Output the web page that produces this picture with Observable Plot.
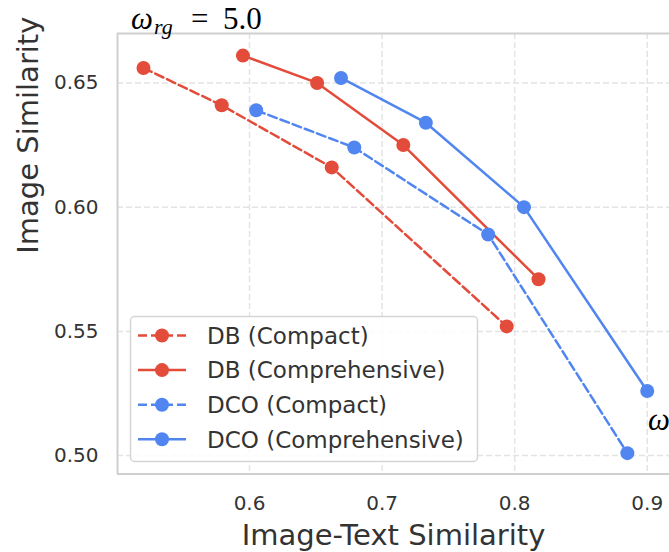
<!DOCTYPE html>
<html><head><meta charset="utf-8">
<script src="https://cdn.jsdelivr.net/npm/d3@7"></script>
<script src="https://cdn.jsdelivr.net/npm/@observablehq/plot@0.6"></script>
<style>body{margin:0;background:#fff;} #chart svg{display:block;overflow:hidden;}</style>
</head><body><div id="chart"></div>
<script>
// ---- data ----
const seriesNames = ["DB (Compact)", "DB (Comprehensive)", "DCO (Compact)", "DCO (Comprehensive)"];
const seriesColors = ["#E34B3A", "#E34B3A", "#5186F1", "#5186F1"];
const seriesDashed = [true, false, true, false];
const dbCompactX = [0.520, 0.579, 0.662, 0.794];
const dbCompactY = [0.656, 0.641, 0.616, 0.552];
const dbComprehensiveX = [0.595, 0.651, 0.716, 0.818];
const dbComprehensiveY = [0.661, 0.650, 0.625, 0.571];
const dcoCompactX = [0.605, 0.679, 0.780, 0.885];
const dcoCompactY = [0.639, 0.624, 0.589, 0.501];
const dcoComprehensiveX = [0.669, 0.733, 0.807, 0.900];
const dcoComprehensiveY = [0.652, 0.634, 0.600, 0.526];
const xTicks = [0.6, 0.7, 0.8, 0.9];
const yTicks = [0.50, 0.55, 0.60, 0.65];
const xLabel = "Image-Text Similarity";
const yLabel = "Image Similarity";
const xDomain = [0.5004, 0.9168];
const yDomain = [0.4926, 0.6699];

const seriesX = [dbCompactX, dbComprehensiveX, dcoCompactX, dcoComprehensiveX];
const seriesY = [dbCompactY, dbComprehensiveY, dcoCompactY, dcoComprehensiveY];
const rows = [];
seriesX.forEach((xs, i) => xs.forEach((x, j) => rows.push({s: i, x, y: seriesY[i][j]})));

const font = "DejaVu Sans";
const frameColor = "#cfcfcf";
const gridStyle = {stroke: "#e4e4e4", strokeOpacity: 1, strokeWidth: 1.5, strokeDasharray: "6,3"};

const marks = [
  Plot.gridX(xTicks, gridStyle),
  Plot.gridY(yTicks, gridStyle),
  Plot.ruleX([xDomain[0]], {stroke: frameColor, strokeWidth: 2}),
  Plot.ruleY(yDomain, {stroke: frameColor, strokeWidth: 2}),
  Plot.axisX(xTicks, {tickSize: 0, tickPadding: 22, fontSize: 20, tickFormat: d3.format(".1f"), fill: "#333", label: null}),
  Plot.axisY(yTicks, {tickSize: 0, tickPadding: 19, fontSize: 20, tickFormat: d3.format(".2f"), fill: "#333", label: null}),
];
seriesNames.forEach((name, i) => {
  const d = rows.filter(r => r.s === i);
  marks.push(Plot.line(d, {x: "x", y: "y", stroke: seriesColors[i], strokeWidth: 2.5,
    strokeDasharray: seriesDashed[i] ? "9,4" : null}));
  marks.push(Plot.dot(d, {x: "x", y: "y", r: 7, fill: seriesColors[i], stroke: "none"}));
});
marks.push(Plot.text([xLabel], {text: d => d, frameAnchor: "bottom", dy: 70.5, lineAnchor: "bottom", fontSize: 29, fill: "#333"}));
marks.push(Plot.text([yLabel], {text: d => d, frameAnchor: "left", dx: -80, rotate: -90, lineAnchor: "bottom", fontSize: 29, fill: "#333"}));

const chart = Plot.plot({
  width: 669, height: 552,
  marginLeft: 117, marginRight: 0, marginTop: 33, marginBottom: 78.5,
  x: {domain: xDomain},
  y: {domain: yDomain},
  style: {fontFamily: font, background: "#fff", overflow: "hidden"},
  marks
});
document.getElementById("chart").appendChild(chart);

// ---- annotations and legend ----
const svg = d3.select(chart);
const t = svg.append("text").attr("x", 131).attr("y", 28.5).attr("text-anchor", "start")
  .attr("font-family", "Liberation Serif").attr("font-size", 31).attr("fill", "#000");
t.append("tspan").attr("font-style", "italic").text("ω");
t.append("tspan").attr("font-style", "italic").attr("font-size", 22).attr("dy", 5).attr("dx", 1).text("rg");
t.append("tspan").attr("dy", -5).attr("x", 191).text("=");
t.append("tspan").attr("x", 223).text("5.0");

svg.append("text").attr("x", 648).attr("y", 430).attr("text-anchor", "start")
  .attr("font-family", "Liberation Serif").attr("font-size", 31).attr("font-style", "italic").attr("fill", "#000").text("ω");

const lg = svg.append("g").attr("font-family", font).attr("text-anchor", "start");
lg.append("rect").attr("x", 130.5).attr("y", 316.5).attr("width", 347).attr("height", 145).attr("rx", 4)
  .attr("fill", "#fff").attr("fill-opacity", 0.85).attr("stroke", "#d5d5d5").attr("stroke-width", 1.5);
seriesNames.forEach((name, i) => {
  const cy = 335.5 + i * 34.6;
  lg.append("line").attr("x1", 138).attr("x2", 186).attr("y1", cy).attr("y2", cy)
    .attr("stroke", seriesColors[i]).attr("stroke-width", 2.5)
    .attr("stroke-dasharray", seriesDashed[i] ? "9,4" : null);
  lg.append("circle").attr("cx", 162).attr("cy", cy).attr("r", 7).attr("fill", seriesColors[i]);
  lg.append("text").attr("x", 207).attr("y", cy + 8.2).attr("font-size", 23).attr("fill", "#333")
    .attr("text-anchor", "start").text(name);
});
</script>
</body></html>
